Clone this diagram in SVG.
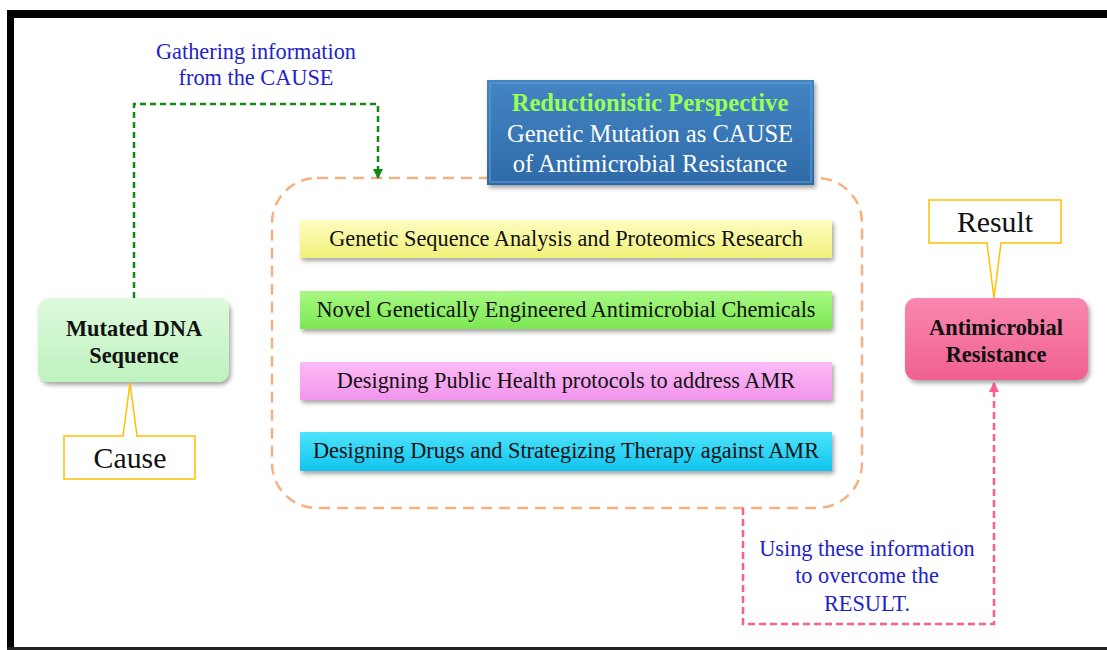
<svg xmlns="http://www.w3.org/2000/svg" width="1107" height="650" viewBox="0 0 1107 650">
<style>
text{font-family:"Liberation Serif","Times New Roman",serif;}
.bar{stroke:none;}
.bt{font-size:22.3px;fill:#111;text-anchor:middle;}
.nt{font-size:22.4px;font-weight:bold;fill:#111;text-anchor:middle;}
.lbl{font-size:22.3px;fill:#2222cc;text-anchor:middle;}
.call{fill:#fff;stroke:#ffc000;stroke-width:1.5;}
.ct{font-size:29.8px;fill:#111;text-anchor:middle;}
.pt{font-size:24.6px;text-anchor:middle;}
</style>
<defs>
<filter id="sh" x="-10%" y="-20%" width="125%" height="150%">
<feDropShadow dx="2" dy="3" stdDeviation="2" flood-color="#000" flood-opacity="0.35"/>
</filter>
<linearGradient id="gYel" x1="0" y1="0" x2="0" y2="1"><stop offset="0" stop-color="#fdfdc0"/><stop offset="1" stop-color="#f1f17a"/></linearGradient>
<linearGradient id="gGrn" x1="0" y1="0" x2="0" y2="1"><stop offset="0" stop-color="#a8f884"/><stop offset="1" stop-color="#7ce852"/></linearGradient>
<linearGradient id="gPnk" x1="0" y1="0" x2="0" y2="1"><stop offset="0" stop-color="#fbbcf6"/><stop offset="1" stop-color="#f294ec"/></linearGradient>
<linearGradient id="gCyn" x1="0" y1="0" x2="0" y2="1"><stop offset="0" stop-color="#4de3fb"/><stop offset="1" stop-color="#12c4ef"/></linearGradient>
<linearGradient id="gBlu" x1="0" y1="0" x2="0" y2="1"><stop offset="0" stop-color="#4485c4"/><stop offset="1" stop-color="#2e6aa8"/></linearGradient>
<linearGradient id="gNG" x1="0" y1="0" x2="0" y2="1"><stop offset="0" stop-color="#dcfadc"/><stop offset="1" stop-color="#bff2bf"/></linearGradient>
<linearGradient id="gNP" x1="0" y1="0" x2="0" y2="1"><stop offset="0" stop-color="#f987b0"/><stop offset="1" stop-color="#f0608f"/></linearGradient>
<marker id="aG" viewBox="0 0 10 10" refX="9" refY="5" markerWidth="4" markerHeight="4" orient="auto"><path d="M0,0 L10,5 L0,10 z" fill="#118811"/></marker>
<marker id="aP" viewBox="0 0 10 10" refX="9" refY="5" markerWidth="4" markerHeight="4" orient="auto"><path d="M0,0 L10,5 L0,10 z" fill="#ff5c93"/></marker>
</defs>

<!-- frame -->
<rect x="7" y="10" width="1100" height="8" fill="#000"/>
<rect x="7" y="10" width="7" height="640" fill="#000"/>
<rect x="7" y="647" width="1100" height="3" fill="#222"/>

<g id="container">
<rect x="272" y="178" width="590" height="330" rx="45" ry="45" fill="none" stroke="#f4b183" stroke-width="2.5" stroke-dasharray="11 7"/>
</g>

<g id="connectors">
<polyline points="134,298 134,104 378,104 378,178" fill="none" stroke="#118811" stroke-width="2.5" stroke-dasharray="6 4" marker-end="url(#aG)"/>
<polyline points="743,508 743,624 994,624 994,383" fill="none" stroke="#ff5c93" stroke-width="2.5" stroke-dasharray="7 4" marker-end="url(#aP)"/>
</g>

<g id="label-gather">
<text class="lbl" x="256" y="59">Gathering information</text>
<text class="lbl" x="256" y="85">from the CAUSE</text>
</g>
<g id="label-using">
<text class="lbl" x="867" y="556">Using these information</text>
<text class="lbl" x="867" y="583">to overcome the</text>
<text class="lbl" x="867" y="611">RESULT.</text>
</g>

<g id="perspective">
<rect x="487" y="80" width="327" height="105" fill="url(#gBlu)" filter="url(#sh)"/>
<rect x="490" y="83" width="321" height="99" fill="none" stroke="#5b9ad6" stroke-width="2" opacity="0.6"/>
<text class="pt" x="650" y="111" font-weight="bold" fill="#99ff55">Reductionistic Perspective</text>
<text class="pt" x="650" y="142" fill="#fff">Genetic Mutation as CAUSE</text>
<text class="pt" x="650" y="172" fill="#fff">of Antimicrobial Resistance</text>
</g>

<g id="bar1">
<rect class="bar" x="300" y="220" width="532" height="38" fill="url(#gYel)" filter="url(#sh)"/>
<text class="bt" x="566" y="246">Genetic Sequence Analysis and Proteomics Research</text>
</g>
<g id="bar2">
<rect class="bar" x="300" y="291" width="532" height="38" fill="url(#gGrn)" filter="url(#sh)"/>
<text class="bt" x="566" y="317">Novel Genetically Engineered Antimicrobial Chemicals</text>
</g>
<g id="bar3">
<rect class="bar" x="300" y="362" width="532" height="38" fill="url(#gPnk)" filter="url(#sh)"/>
<text class="bt" x="566" y="388">Designing Public Health protocols to address AMR</text>
</g>
<g id="bar4">
<rect class="bar" x="300" y="432" width="532" height="39" fill="url(#gCyn)" filter="url(#sh)"/>
<text class="bt" x="566" y="458">Designing Drugs and Strategizing Therapy against AMR</text>
</g>

<g id="mutated-dna">
<rect x="38" y="298" width="191" height="84" rx="11" fill="url(#gNG)" filter="url(#sh)"/>
<text class="nt" x="134" y="336">Mutated DNA</text>
<text class="nt" x="134" y="363">Sequence</text>
</g>

<g id="antimicrobial-resistance">
<rect x="905" y="298" width="183" height="82" rx="11" fill="url(#gNP)" filter="url(#sh)"/>
<text class="nt" x="996" y="335">Antimicrobial</text>
<text class="nt" x="996" y="362">Resistance</text>
</g>

<g id="cause">
<rect class="call" x="64" y="436" width="131" height="43"/>
<polyline points="123,436 130,383 137,436" fill="#fff" stroke="#ffc000" stroke-width="1.5"/>
<line x1="124" y1="436" x2="136" y2="436" stroke="#fff" stroke-width="2"/>
<text class="ct" x="130" y="468">Cause</text>
</g>

<g id="result">
<rect class="call" x="929" y="200" width="132" height="43"/>
<polyline points="987,243 994,298 1001,243" fill="#fff" stroke="#ffc000" stroke-width="1.5"/>
<line x1="988" y1="243" x2="1000" y2="243" stroke="#fff" stroke-width="2"/>
<text class="ct" x="995" y="232">Result</text>
</g>
</svg>
